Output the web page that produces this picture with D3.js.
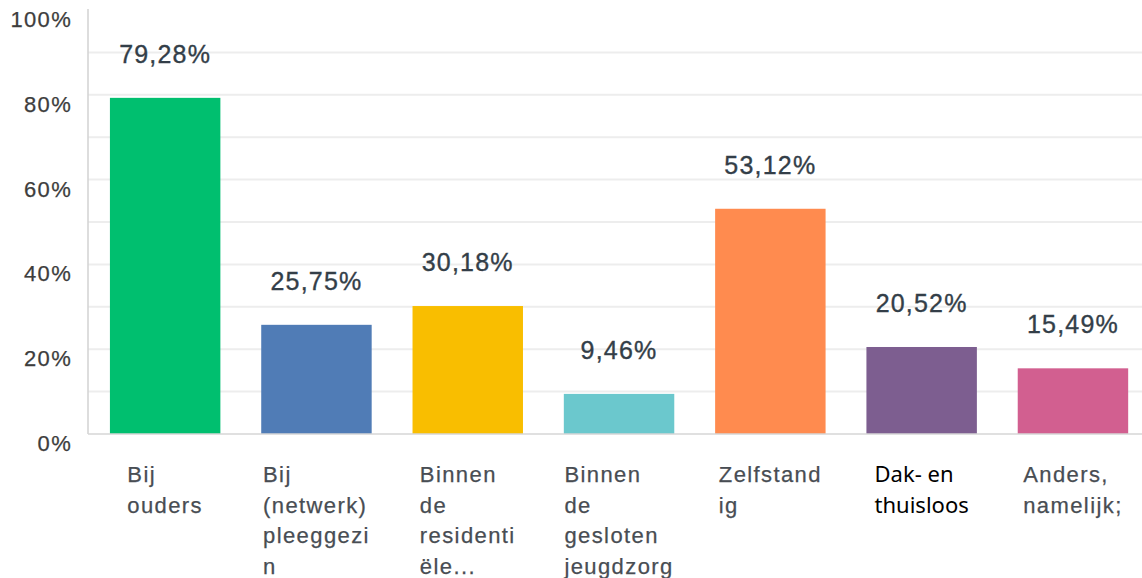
<!DOCTYPE html>
<html>
<head>
<meta charset="utf-8">
<script src="https://cdn.jsdelivr.net/npm/d3@7"></script>
<style>
  html, body { margin: 0; padding: 0; background: #fff; }
  svg { display: block; }
</style>
</head>
<body>
<svg id="chart" width="1142" height="578"></svg>
<script>
const categories = [
  ["Bij", "ouders"],
  ["Bij", "(netwerk)", "pleeggezi", "n"],
  ["Binnen", "de", "residenti", "ële..."],
  ["Binnen", "de", "gesloten", "jeugdzorg"],
  ["Zelfstand", "ig"],
  ["Dak- en", "thuisloos"],
  ["Anders,", "namelijk;"]
];
const values = [79.28, 25.75, 30.18, 9.46, 53.12, 20.52, 15.49];
const valueLabels = ["79,28%", "25,75%", "30,18%", "9,46%", "53,12%", "20,52%", "15,49%"];
const colors = ["#00bf6f", "#507cb6", "#f9be00", "#6bc8cd", "#ff8b4f", "#7d5e90", "#d25f90"];
const tickValues = [0, 20, 40, 60, 80, 100];
const gridValues = [10, 20, 30, 40, 50, 60, 70, 80, 90];
const altFontIndex = 5; // "Dak- en thuisloos" is rendered in a different font

(function () {
const svg = d3.select("#chart");
const pLeft = 88, pTop = 10, pBottom = 434, plotRight = 1142;

const x = d3.scaleBand()
  .domain(d3.range(values.length))
  .range([89.5, 1148.6])
  .paddingInner(0.27)
  .paddingOuter(0.135);

const y = d3.scaleLinear().domain([0, 100]).range([pBottom, pTop]);

const mainFont = "'Liberation Sans', Arial, sans-serif";

// gridlines
svg.append("g").selectAll("line")
  .data(gridValues)
  .join("line")
  .attr("x1", pLeft).attr("x2", plotRight)
  .attr("y1", d => y(d)).attr("y2", d => y(d))
  .attr("stroke", "#ededed").attr("stroke-width", 2);

// bars
svg.append("g").selectAll("rect")
  .data(values)
  .join("rect")
  .attr("x", (d, i) => x(i))
  .attr("width", x.bandwidth())
  .attr("y", d => y(d))
  .attr("height", d => y(0) - y(d))
  .attr("fill", (d, i) => colors[i]);

// axes lines
svg.append("line")
  .attr("x1", pLeft).attr("x2", pLeft)
  .attr("y1", pTop - 1).attr("y2", pBottom)
  .attr("stroke", "#d2d2d2").attr("stroke-width", 1.5);
svg.append("line")
  .attr("x1", pLeft).attr("x2", plotRight)
  .attr("y1", pBottom).attr("y2", pBottom)
  .attr("stroke", "#d6d6d6").attr("stroke-width", 1.5);

// y tick labels
svg.append("g").selectAll("text")
  .data(tickValues)
  .join("text")
  .attr("x", 72)
  .attr("y", d => y(d) + 17)
  .attr("text-anchor", "end")
  .attr("font-family", mainFont)
  .attr("font-size", 22)
  .attr("letter-spacing", 1.3)
  .attr("fill", "#3d3d3d")
  .attr("stroke", "#3d3d3d").attr("stroke-width", 0.25)
  .text(d => d + "%");

// value labels
svg.append("g").selectAll("text")
  .data(values)
  .join("text")
  .attr("x", (d, i) => x(i) + x.bandwidth() / 2)
  .attr("y", d => y(d) - 35)
  .attr("text-anchor", "middle")
  .attr("font-family", mainFont)
  .attr("font-size", 25)
  .attr("letter-spacing", 1.2)
  .attr("fill", "#333e48")
  .attr("stroke", "#333e48").attr("stroke-width", 0.35)
  .text((d, i) => valueLabels[i]);

// category labels: left-aligned block, block centered under the bar
const cat = svg.append("g").selectAll("text")
  .data(categories)
  .join("text")
  .attr("y", 482)
  .attr("font-family", (d, i) => i === altFontIndex ? "'Noto Sans', 'Open Sans', sans-serif" : mainFont)
  .attr("font-size", 22)
  .attr("letter-spacing", (d, i) => i === altFontIndex ? 0 : 1.4)
  .attr("fill", (d, i) => i === altFontIndex ? "#000" : "#484d53")
  .attr("stroke", (d, i) => i === altFontIndex ? "none" : "#484d53")
  .attr("stroke-width", 0.25);
cat.each(function (lines, i) {
  const t = d3.select(this);
  const spans = lines.map((ln, j) =>
    t.append("tspan").attr("dy", j === 0 ? 0 : 30.5).text(ln));
  const w = d3.max(spans, s => s.node().getComputedTextLength());
  const xx = x(i) + x.bandwidth() / 2 - w / 2;
  spans.forEach(s => s.attr("x", xx));
});
})();
</script>
</body>
</html>
